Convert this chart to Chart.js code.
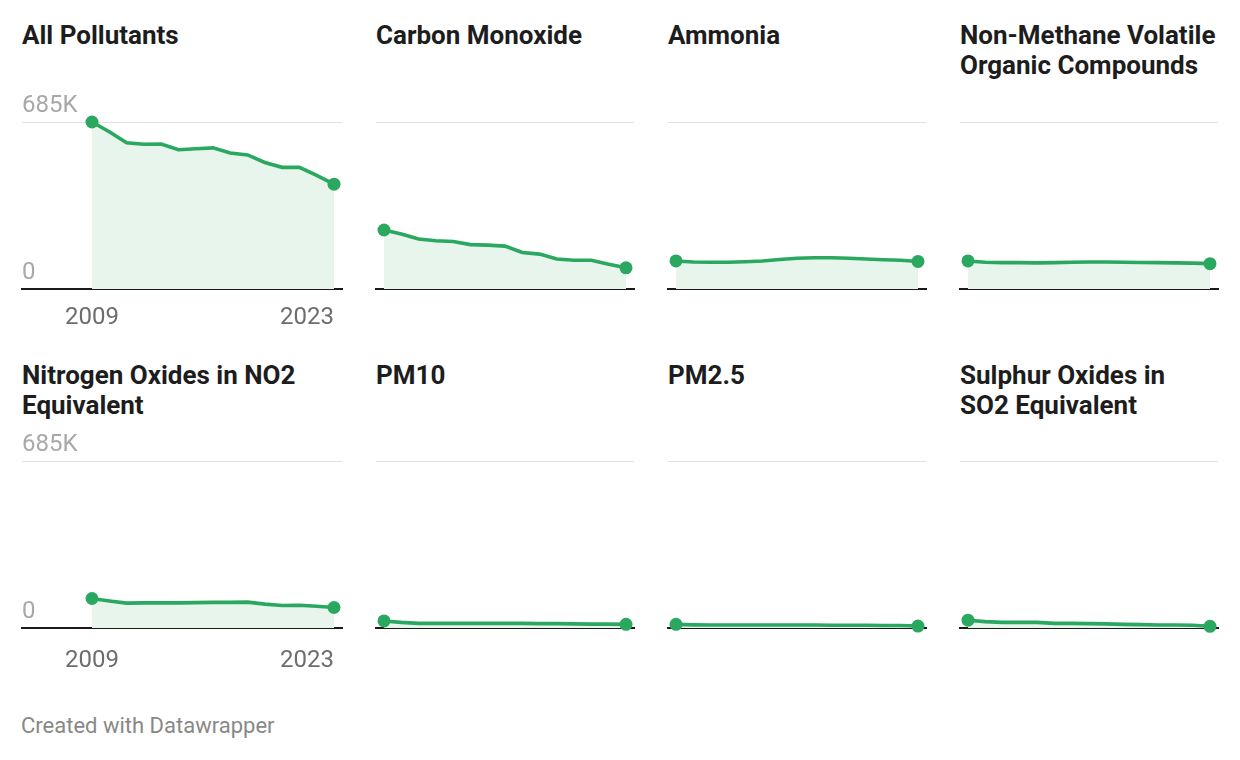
<!DOCTYPE html>
<html>
<head>
<meta charset="utf-8">
<script src="https://cdn.jsdelivr.net/npm/chart.js@4/dist/chart.umd.min.js"></script>
<style>
  html,body{margin:0;padding:0;background:#fff;}
  body{width:1240px;height:760px;position:relative;overflow:hidden;font-family:Roboto,"Noto Sans",sans-serif;}
  .title{position:absolute;font-weight:700;font-size:26px;line-height:30px;color:#1d1d1d;letter-spacing:0;white-space:nowrap;}
  .cw{position:absolute;}
  .foot{position:absolute;left:21px;top:713px;font-size:22px;line-height:26px;color:#888;}
</style>
</head>
<body>
<div id="root"></div>
<div class="foot">Created with Datawrapper</div>
<script>
const years = [2009,2010,2011,2012,2013,2014,2015,2016,2017,2018,2019,2020,2021,2022,2023];
const titles = [
  "All Pollutants",
  "Carbon Monoxide",
  "Ammonia",
  "Non-Methane Volatile<br>Organic Compounds",
  "Nitrogen Oxides in NO2<br>Equivalent",
  "PM10",
  "PM2.5",
  "Sulphur Oxides in<br>SO2 Equivalent"
];
const allPollutants = [685000,645000,600000,594000,595000,571000,575000,579000,558000,550000,519000,499000,499000,466000,430000];
const carbonMonoxide = [242000,226000,205000,198000,195000,182000,180000,176000,150000,143000,123000,118000,118000,102000,87000];
const ammonia = [115000,111000,110000,110000,112000,115000,121000,126000,128000,128000,126000,123000,120000,118000,113000];
const nmvoc = [115000,110000,108000,108000,107000,108000,110000,111000,111000,110000,109000,108000,107000,106000,104000];
const nox = [121000,111000,102000,103000,103000,103000,104000,105000,105000,106000,98000,92000,93000,89000,84000];
const pm10 = [29000,23000,19000,19000,19000,19000,19000,19000,19000,18000,18000,17000,16000,16000,15000];
const pm25 = [15000,13000,12000,12000,12000,12000,12000,12000,12000,11000,11000,11000,10000,10000,8000];
const sox = [32000,26000,23000,23000,23000,19000,19000,18000,17000,15000,14000,12000,12000,11000,7000];
const series = [allPollutants, carbonMonoxide, ammonia, nmvoc, nox, pm10, pm25, sox];
const yTicks = [0, 685000];
const yTickLabels = ["0", "685K"];
const xTickYears = [2009, 2023];

const GREEN = "#2aa85f";
const FILL = "#e8f5ed";

const colLeft = [22, 376, 668, 960];
const colWidth = [320, 258, 258, 258];
const rowTitleTop = [20, 360];
const rowCanvasTop = [90, 429];
const rowXLabelGap = [29, 33];

// Draws x tick labels at the x scale's tick positions; a label that would overflow
// the plot's right edge is right-aligned to its tick (Datawrapper style).
const xLabelPlugin = {
  id: 'xLabels',
  afterDraw(chart, args, opts) {
    if (!opts.show) return;
    const sx = chart.scales.x, ca = chart.chartArea, ctx = chart.ctx;
    ctx.save();
    ctx.font = '24px Roboto';
    ctx.fillStyle = '#6d6d6d';
    ctx.textBaseline = 'middle';
    sx.ticks.forEach(t => {
      const px = sx.getPixelForValue(t.value);
      const txt = String(t.value);
      const w = ctx.measureText(txt).width;
      if (px + w / 2 > ca.right) { ctx.textAlign = 'right'; }
      else if (px - w / 2 < ca.left) { ctx.textAlign = 'left'; }
      else { ctx.textAlign = 'center'; }
      ctx.fillText(txt, px, ca.bottom + opts.gap);
    });
    ctx.restore();
  }
};

const root = document.getElementById('root');

series.forEach((data, i) => {
  const col = i % 4, row = Math.floor(i / 4);
  const t = document.createElement('div');
  t.className = 'title';
  t.style.left = colLeft[col] + 'px';
  t.style.top = rowTitleTop[row] + 'px';
  t.innerHTML = titles[i];
  root.appendChild(t);

  const padL = 22, padR = 24;
  const wrap = document.createElement('div');
  wrap.className = 'cw';
  wrap.style.left = (colLeft[col] - padL) + 'px';
  wrap.style.top = rowCanvasTop[row] + 'px';
  const W = colWidth[col] + padL + padR, H = 250;
  wrap.style.width = W + 'px';
  wrap.style.height = H + 'px';
  const cv = document.createElement('canvas');
  wrap.appendChild(cv);
  root.appendChild(wrap);

  const first = col === 0;
  const step = 242 / 14;
  const leftYears = first ? 70 / step : 8 / step;
  const rightYears = 8 / step;

  new Chart(cv, {
    type: 'line',
    plugins: [xLabelPlugin],
    data: {
      labels: years,
      datasets: [{
        data: data.map((v, k) => ({x: years[k], y: v})),
        borderColor: GREEN,
        borderWidth: 3.6,
        backgroundColor: FILL,
        fill: 'origin',
        tension: 0,
        pointRadius: data.map((v, k) => (k === 0 || k === data.length - 1) ? 6.5 : 0),
        pointBackgroundColor: GREEN,
        pointBorderWidth: 0,
        clip: false
      }]
    },
    options: {
      responsive: true,
      maintainAspectRatio: false,
      animation: false,
      events: [],
      layout: {padding: {left: padL, right: padR, top: 32, bottom: 51}},
      plugins: {legend: {display: false}, tooltip: {enabled: false}, xLabels: {show: first, gap: rowXLabelGap[row]}},
      scales: {
        x: {
          type: 'linear',
          min: 2009 - leftYears,
          max: 2023 + rightYears,
          afterBuildTicks: s => { s.ticks = xTickYears.map(v => ({value: v})); },
          afterFit: s => { s.paddingLeft = 0; s.paddingRight = 0; },
          grid: {display: false, drawTicks: false},
          border: {display: true, color: '#1a1a1a', width: 2},
          ticks: {display: false}
        },
        y: {
          min: 0,
          max: 685000,
          afterBuildTicks: s => { s.ticks = yTicks.map(v => ({value: v})); },
          grid: {color: '#e2e2e2', lineWidth: 1, drawTicks: false},
          border: {display: false},
          ticks: {
            display: first,
            mirror: true,
            padding: 0,
            labelOffset: -16,
            color: '#a8a8a8',
            font: {family: 'Roboto', size: 24},
            callback: v => yTickLabels[yTicks.indexOf(v)]
          }
        }
      }
    }
  });
});
</script>
</body>
</html>
